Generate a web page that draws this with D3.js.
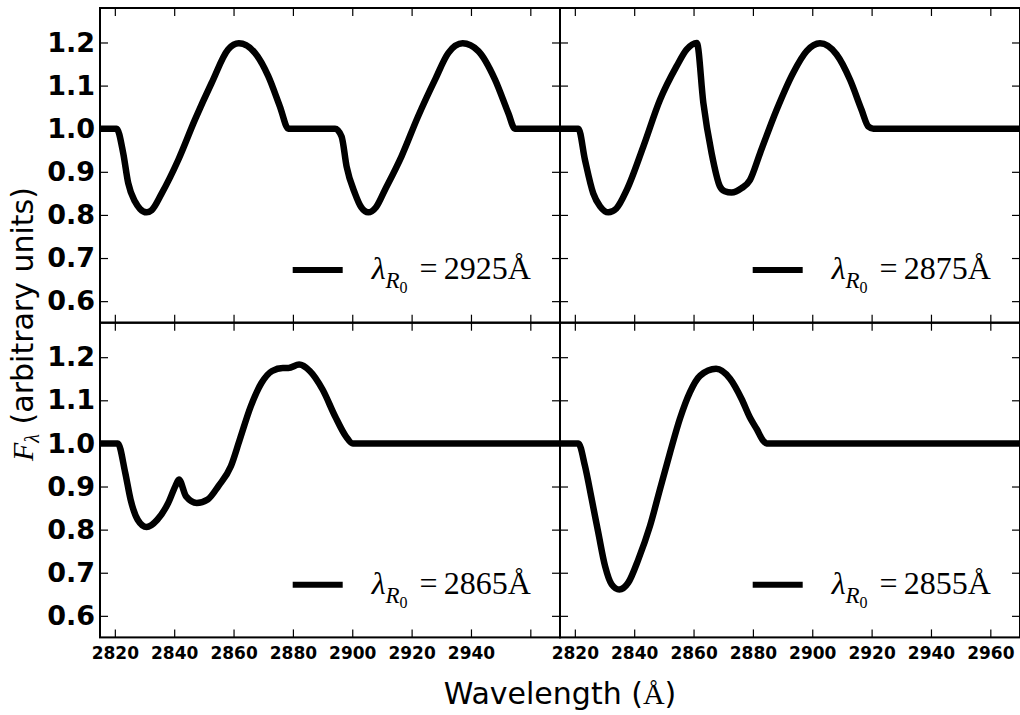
<!DOCTYPE html>
<html><head><meta charset="utf-8">
<script src="https://cdn.jsdelivr.net/npm/d3@7"></script>
<style>body{margin:0;background:#fff;} svg{display:block;}</style>
</head><body>
<svg id="chart" width="1020" height="715"></svg>
<script>
// ---- data ----
const xTicks = [2820, 2840, 2860, 2880, 2900, 2920, 2940, 2960];
const yTicks = [0.6, 0.7, 0.8, 0.9, 1.0, 1.1, 1.2];
const legendLabels = ["2925", "2875", "2865", "2855"];

const wl2925 = [2815, 2820.6, 2822.8, 2824.5, 2826.8, 2828.5, 2830.7, 2832.4, 2835.8, 2841.4, 2847, 2852.6, 2858.2, 2861.8, 2867.2, 2871.7, 2875.6, 2878.5, 2894.2, 2896.4, 2898.1, 2900.9, 2903, 2905.4, 2908, 2911, 2916.6, 2922.2, 2927.9, 2932.4, 2937.2, 2942.5, 2948.1, 2952.6, 2954.8, 2970];
const flux2925 = [1, 1, 0.944, 0.874, 0.831, 0.814, 0.806, 0.811, 0.85, 0.928, 1.021, 1.106, 1.184, 1.198, 1.176, 1.122, 1.052, 1.0, 1.0, 0.982, 0.912, 0.85, 0.818, 0.806, 0.818, 0.858, 0.936, 1.029, 1.114, 1.176, 1.198, 1.18, 1.114, 1.036, 1.0, 1.0];

const wl2875 = [2815, 2821.2, 2823.4, 2826.2, 2828.5, 2831.3, 2834, 2837.5, 2843.1, 2848.7, 2854.3, 2857.7, 2861.1, 2863.3, 2866.1, 2868.9, 2870.5, 2872.8, 2876.2, 2879, 2882.4, 2888, 2893.6, 2898.1, 2902.6, 2908.2, 2912.7, 2916.6, 2918.9, 2920.6, 2970];
const flux2875 = [1, 1, 0.928, 0.85, 0.82, 0.806, 0.815, 0.858, 0.959, 1.067, 1.145, 1.184, 1.199, 1.06, 0.943, 0.866, 0.855, 0.852, 0.862, 0.881, 0.943, 1.044, 1.13, 1.18, 1.198, 1.172, 1.114, 1.044, 1.005, 1.0, 1.0];

const wl2865 = [2815, 2821, 2823.5, 2825.3, 2827.7, 2830.7, 2834.3, 2838, 2840.4, 2841.6, 2844, 2847.6, 2851.3, 2854.9, 2859.1, 2862.1, 2865.8, 2869.4, 2873, 2876.6, 2878.5, 2882.1, 2885.7, 2890, 2894.2, 2897.8, 2900.2, 2970];
const flux2865 = [1, 1, 0.932, 0.87, 0.823, 0.806, 0.823, 0.862, 0.901, 0.916, 0.877, 0.862, 0.87, 0.901, 0.947, 1.009, 1.086, 1.14, 1.168, 1.175, 1.175, 1.183, 1.168, 1.125, 1.063, 1.017, 1.0, 1.0];

const wl2855 = [2815, 2821.2, 2823.4, 2825.7, 2827.9, 2830.2, 2832.4, 2835, 2838, 2841.4, 2845.3, 2848.7, 2852.1, 2855.4, 2858.8, 2862.2, 2867.6, 2872.3, 2876.2, 2879, 2881.3, 2883.5, 2884.6, 2970];
const flux2855 = [1, 1, 0.948, 0.87, 0.793, 0.715, 0.673, 0.661, 0.677, 0.731, 0.808, 0.894, 0.979, 1.057, 1.119, 1.157, 1.173, 1.15, 1.103, 1.06, 1.033, 1.006, 1.0, 1.0];

const panels = [
  {wl: wl2925, flux: flux2925, label: legendLabels[0]},
  {wl: wl2875, flux: flux2875, label: legendLabels[1]},
  {wl: wl2865, flux: flux2865, label: legendLabels[2]},
  {wl: wl2855, flux: flux2855, label: legendLabels[3]}
];

// ---- layout ----
const svg = d3.select("#chart");
const W = 460, H = 314.7;
const lefts = [100, 560], tops = [8, 322.7];
const x = d3.scaleLinear().domain([2815, 2970]).range([0, W]);
const y = d3.scaleLinear().domain([0.55, 1.28]).range([H, 0]);
const serif = "'Liberation Serif', 'Times New Roman', serif";
const sans = "'DejaVu Sans', sans-serif";

const line = d3.line().x(d => x(d[0])).y(d => y(d[1])).curve(d3.curveMonotoneX);

panels.forEach((p, i) => {
  const col = i % 2, row = Math.floor(i / 2);
  const g = svg.append("g").attr("transform", `translate(${lefts[col]},${tops[row]})`);
  const cid = "clip" + i;
  g.append("clipPath").attr("id", cid).append("rect").attr("width", W).attr("height", H);

  const pts = p.wl.map((w, k) => [w, p.flux[k]]);
  g.append("path").attr("d", line(pts)).attr("clip-path", `url(#${cid})`)
    .attr("fill", "none").attr("stroke", "#000").attr("stroke-width", 6.5)
    .attr("stroke-linejoin", "round").attr("stroke-linecap", "round");

  const styleAxis = (sel) => {
    sel.select(".domain").remove();
    sel.selectAll(".tick line").attr("stroke", "#000").attr("stroke-width", 1.2);
    sel.attr("font-family", sans).attr("font-weight", "bold").attr("fill", "#000");
  };

  g.append("g").attr("transform", `translate(0,${H})`)
    .call(d3.axisBottom(x).tickValues(xTicks).tickSize(-8).tickPadding(10)
      .tickFormat(d => row === 1 && !(col === 0 && d === 2960) ? d : ""))
    .call(styleAxis).attr("font-size", 17);
  g.append("g")
    .call(d3.axisTop(x).tickValues(xTicks).tickSize(-8).tickFormat(""))
    .call(styleAxis);
  g.append("g")
    .call(d3.axisLeft(y).tickValues(yTicks).tickSize(-8).tickPadding(5)
      .tickFormat(d => col === 0 ? d3.format(".1f")(d) : ""))
    .call(styleAxis).attr("font-size", 27);
  g.append("g").attr("transform", `translate(${W},0)`)
    .call(d3.axisRight(y).tickValues(yTicks).tickSize(-8).tickFormat(""))
    .call(styleAxis);

  g.append("rect").attr("width", W).attr("height", H)
    .attr("fill", "none").attr("stroke", "#000").attr("stroke-width", 2);

  // legend
  const lg = g.append("g").attr("transform", "translate(192.7,262)");
  lg.append("line").attr("x1", 0).attr("x2", 50).attr("y1", 0).attr("y2", 0)
    .attr("stroke", "#000").attr("stroke-width", 6);
  const t = lg.append("text").attr("x", 79).attr("y", 9)
    .attr("font-family", serif).attr("font-size", 32).attr("fill", "#000");
  t.append("tspan").attr("font-style", "italic").text("λ");
  t.append("tspan").attr("font-style", "italic").attr("font-size", 23).attr("dy", 9).text("R");
  t.append("tspan").attr("font-size", 16).attr("dy", 5).text("0");
  t.append("tspan").attr("dy", -14).attr("dx", 12).text("=");
  t.append("tspan").attr("dx", 6).text(p.label + "Å");
});

// axis labels
const xl = svg.append("text").attr("x", 560).attr("y", 704).attr("text-anchor", "middle")
  .attr("font-family", sans).attr("font-size", 30).attr("fill", "#000");
xl.append("tspan").text("Wavelength (");
xl.append("tspan").attr("font-family", serif).text("Å");
xl.append("tspan").text(")");

const yl = svg.append("text").attr("transform", "translate(33,324) rotate(-90)")
  .attr("text-anchor", "middle").attr("font-family", sans).attr("font-size", 30).attr("fill", "#000");
yl.append("tspan").attr("font-family", serif).attr("font-style", "italic").text("F");
yl.append("tspan").attr("font-family", serif).attr("font-style", "italic").attr("font-size", 20).attr("dy", 6).text("λ");
yl.append("tspan").attr("dy", -6).text(" (arbitrary units)");
</script>
</body></html>
